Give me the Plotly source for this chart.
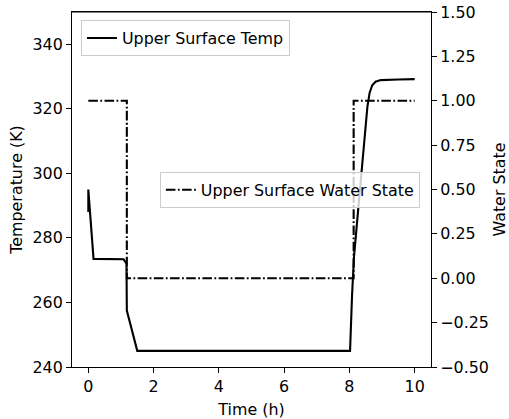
import plotly.graph_objects as go

# Data
time_temp = [0.0, 0.0, 0.16, 0.6, 1.08, 1.13, 1.17, 1.18, 1.5, 3.0, 5.0, 7.0, 8.02, 8.08,
             8.14, 8.24, 8.40, 8.55, 8.62, 8.70, 8.80, 8.96, 9.5, 10.0]
temp = [288.0, 295.0, 273.5, 273.5, 273.4, 272.6, 272.0, 257.5, 245.0, 245.0, 245.0, 245.0,
        245.0, 262.0, 274.0, 285.5, 304.0, 320.5, 325.0, 327.3, 328.4, 328.9, 329.1, 329.2]

time_water = [0.0, 1.18, 1.18, 8.13, 8.13, 10.0]
water_state = [1.0, 1.0, 0.0, 0.0, 1.0, 1.0]

x_ticks = [0, 2, 4, 6, 8, 10]
left_ticks = [240, 260, 280, 300, 320, 340]
right_ticks = [-0.5, -0.25, 0.0, 0.25, 0.5, 0.75, 1.0, 1.25, 1.5]

FONT = "DejaVu Sans"
FS = 15.9

fig = go.Figure()
fig.add_trace(go.Scatter(
    x=time_temp, y=temp, mode="lines", name="Upper Surface Temp",
    line=dict(color="black", width=2.1), legend="legend", yaxis="y", showlegend=True,
))
fig.add_trace(go.Scatter(
    x=time_water, y=water_state, mode="lines", name="Upper Surface Water State",
    line=dict(color="black", width=2.1, dash="9.6px,2.4px,1.8px,2.4px"),
    legend="legend2", yaxis="y2", showlegend=True,
))

axis_common = dict(
    showgrid=False, zeroline=False, showline=True, linecolor="black", linewidth=1.1,
    ticks="outside", ticklen=5, tickwidth=1.1, tickcolor="black", automargin=False,
    tickfont=dict(family=FONT, size=FS, color="black"),
)

fig.update_layout(
    width=509, height=419,
    margin=dict(l=72, r=78, t=12, b=52, autoexpand=False),
    paper_bgcolor="white", plot_bgcolor="white",
    showlegend=True,
    font=dict(family=FONT, size=FS, color="black"),
    xaxis=dict(
        **axis_common, range=[-0.5, 10.5], tickvals=x_ticks, mirror=True,
        title=dict(text="Time (h)", font=dict(family=FONT, size=FS), standoff=8),
    ),
    yaxis=dict(
        **axis_common, range=[240, 350], tickvals=left_ticks,
        title=dict(text="Temperature (K)", font=dict(family=FONT, size=FS), standoff=5),
    ),
    yaxis2=dict(
        **axis_common, range=[-0.5, 1.5], tickvals=right_ticks, tickformat=".2f",
        overlaying="y", side="right",
        title=dict(text="Water State", font=dict(family=FONT, size=FS), standoff=20),
    ),
    legend=dict(
        x=0.025, y=0.977, xanchor="left", yanchor="top",
        bgcolor="rgba(255,255,255,0.8)", bordercolor="#cccccc", borderwidth=1,
        font=dict(family=FONT, size=FS),
    ),
    legend2=dict(
        x=0.969, y=0.499, xanchor="right", yanchor="middle",
        bgcolor="rgba(255,255,255,0.8)", bordercolor="#cccccc", borderwidth=1,
        font=dict(family=FONT, size=FS),
    ),
    shapes=[dict(type="line", xref="paper", yref="paper", x0=0, x1=1, y0=1, y1=1,
                 line=dict(color="black", width=1.1))],
)

fig.write_html("out.html")
